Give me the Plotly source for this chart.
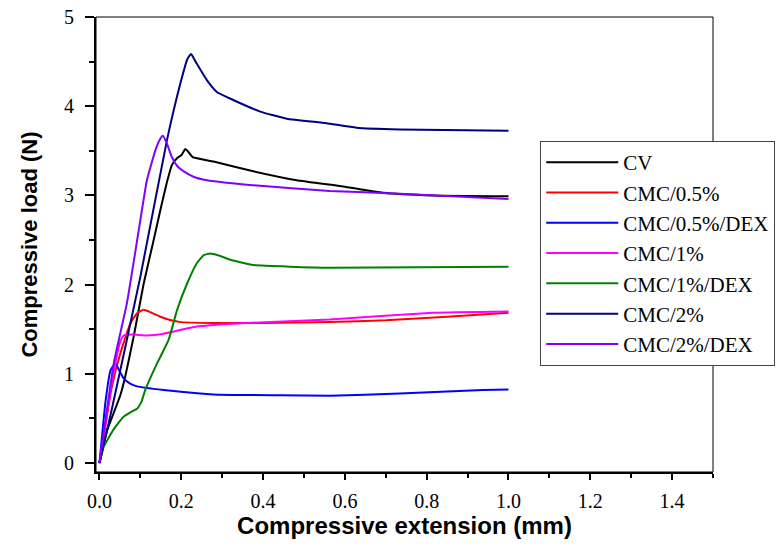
import plotly.graph_objects as go

names = ["CV", "CMC/0.5%", "CMC/0.5%/DEX", "CMC/1%", "CMC/1%/DEX", "CMC/2%", "CMC/2%/DEX"]
colors = ["#000000", "#ff0000", "#0000ff", "#ff00ff", "#008000", "#000080", "#8000ff"]

cv_x = [0, 0.019, 0.051, 0.063, 0.085, 0.108, 0.13, 0.149, 0.165, 0.177, 0.19, 0.2, 0.21, 0.217, 0.228, 0.279, 0.376, 0.482, 0.596, 0.693, 0.815, 1.0]
cv_y = [0, 0.37, 0.76, 0.97, 1.45, 2.01, 2.45, 2.84, 3.15, 3.34, 3.42, 3.45, 3.52, 3.49, 3.43, 3.38, 3.27, 3.17, 3.10, 3.03, 3.00, 2.99]

c05_x = [0, 0.03, 0.051, 0.076, 0.092, 0.108, 0.125, 0.149, 0.175, 0.198, 0.279, 0.4, 0.563, 0.70, 0.85, 1.0]
c05_y = [0, 0.85, 1.23, 1.57, 1.68, 1.72, 1.69, 1.64, 1.60, 1.58, 1.57, 1.57, 1.58, 1.60, 1.64, 1.685]

c05d_x = [0, 0.015, 0.027, 0.039, 0.048, 0.059, 0.075, 0.092, 0.157, 0.279, 0.441, 0.563, 0.734, 0.937, 1.0]
c05d_y = [0, 0.7, 1.04, 1.12, 1.04, 0.95, 0.89, 0.86, 0.82, 0.77, 0.76, 0.755, 0.78, 0.82, 0.825]

c1_x = [0, 0.03, 0.05, 0.059, 0.08, 0.116, 0.157, 0.238, 0.36, 0.563, 0.815, 1.0]
c1_y = [0, 0.9, 1.35, 1.43, 1.44, 1.43, 1.45, 1.53, 1.57, 1.61, 1.685, 1.70]

c1d_x = [0, 0.01, 0.035, 0.059, 0.08, 0.092, 0.102, 0.112, 0.141, 0.169, 0.19, 0.214, 0.238, 0.255, 0.271, 0.29, 0.32, 0.376, 0.563, 1.0]
c1d_y = [0, 0.18, 0.38, 0.52, 0.58, 0.61, 0.68, 0.82, 1.12, 1.38, 1.72, 2.01, 2.24, 2.33, 2.35, 2.33, 2.28, 2.22, 2.19, 2.20]

c2_x = [0, 0.03, 0.1, 0.165, 0.198, 0.215, 0.224, 0.235, 0.263, 0.287, 0.327, 0.393, 0.458, 0.555, 0.628, 0.734, 1.0]
c2_y = [0, 0.6, 2.09, 3.62, 4.26, 4.53, 4.585, 4.5, 4.29, 4.16, 4.07, 3.94, 3.86, 3.81, 3.76, 3.74, 3.725]

c2d_x = [0, 0.035, 0.067, 0.096, 0.116, 0.137, 0.148, 0.155, 0.165, 0.177, 0.19, 0.206, 0.23, 0.263, 0.36, 0.563, 0.734, 1.0]
c2d_y = [0, 1.12, 1.79, 2.61, 3.17, 3.51, 3.63, 3.67, 3.58, 3.43, 3.33, 3.27, 3.21, 3.17, 3.12, 3.05, 3.02, 2.96]

series_x = [cv_x, c05_x, c05d_x, c1_x, c1d_x, c2_x, c2d_x]
series_y = [cv_y, c05_y, c05d_y, c1_y, c1d_y, c2_y, c2d_y]

x_tickvals = [0, 0.2, 0.4, 0.6, 0.8, 1.0, 1.2, 1.4]
x_ticktext = ["0.0", "0.2", "0.4", "0.6", "0.8", "1.0", "1.2", "1.4"]
y_tickvals = [0, 1, 2, 3, 4, 5]

fig = go.Figure()
for n, c, xs, ys in zip(names, colors, series_x, series_y):
    fig.add_trace(go.Scatter(x=xs, y=ys, mode="lines", name=n,
                             line=dict(color=c, width=2, shape="spline", smoothing=0.4)))

serif = "Liberation Serif, Times New Roman, serif"
sans = "Liberation Sans, Arial, sans-serif"

common = dict(showline=True, linecolor="black", linewidth=2, mirror=False,
              ticks="outside", tickwidth=2, tickcolor="black",
              showgrid=False, zeroline=False,
              tickfont=dict(family=serif, size=20, color="black"))

fig.update_layout(
    width=783, height=550,
    margin=dict(l=96, r=70, t=17, b=78, autoexpand=False),
    plot_bgcolor="white", paper_bgcolor="white",
    showlegend=True,
    legend=dict(x=0.72, y=0.7275, xanchor="left", yanchor="top",
                bgcolor="white", bordercolor="#444444", borderwidth=1,
                font=dict(family=serif, size=21, color="black"),
                tracegroupgap=0, itemwidth=72),
    xaxis=dict(range=[-0.0085, 1.5], tickvals=x_tickvals, ticktext=x_ticktext, ticklen=6,
               ticklabelstandoff=4,
               minor=dict(dtick=0.1, tick0=0, ticks="outside", ticklen=4, tickwidth=2, tickcolor="black"),
               title=dict(text="<b>Compressive extension (mm)</b>", font=dict(family=sans, size=24, color="black"), standoff=2),
               **common),
    yaxis=dict(range=[-0.1, 5], tickvals=y_tickvals, ticklen=9, ticklabelstandoff=7,
               minor=dict(dtick=0.5, tick0=0, ticks="outside", ticklen=5, tickwidth=2, tickcolor="black"),
               title=dict(text="<b>Compressive load (N)</b>", font=dict(family=sans, size=22, color="black"), standoff=20),
               **common),
    shapes=[dict(type="rect", xref="paper", yref="paper", x0=0, x1=1, y0=0, y1=1,
                 line=dict(color="black", width=1), layer="below")],
)

fig.write_html("out.html")
